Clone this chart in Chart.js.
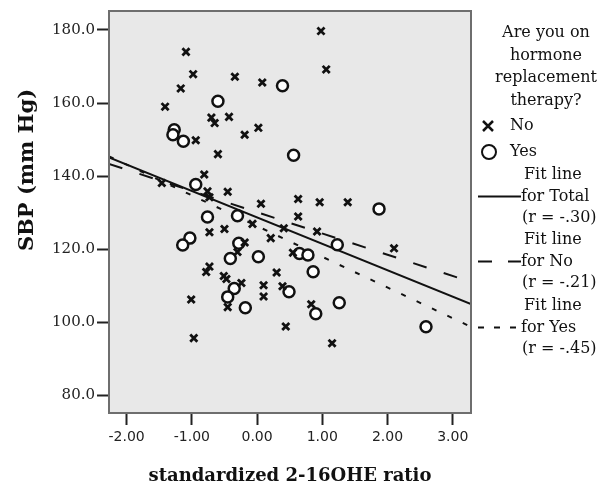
<!DOCTYPE html>
<html>
<head>
<meta charset="utf-8">
<script src="https://cdn.jsdelivr.net/npm/chart.js@4.4.1/dist/chart.umd.min.js"></script>
<style>
  html, body { margin: 0; padding: 0; background: #fff; }
  #box { width: 614px; height: 488px; }
</style>
</head>
<body>
<div id="box"><canvas id="grafico"></canvas></div>
<script>
// dati: rapporto 2-16OHE standardizzato vs SBP
const noX = [-1.09, -0.98, -1.17, -1.41, -0.34, 0.08, -0.70, -0.65, -0.43, 0.02,
             -0.19, -0.94, -0.60, -0.81, -1.46, -0.76, -0.73, -0.45, 0.06, 0.98,
             1.06, 0.63, 0.96, 1.39, 0.63, -0.50, -0.73, -0.07, -0.19, 0.21,
             0.41, -0.30, -0.73, -0.78, -0.51, -0.47, -0.24, -0.45, -1.01, -0.97,
             0.30, 0.10, 0.10, 0.39, 0.44, 0.92, 2.10, 0.55, 0.83, 1.15];
const noY = [174.0, 167.9, 164.0, 159.0, 167.2, 165.6, 156.0, 154.5, 156.2, 153.2,
             151.3, 149.8, 146.0, 140.4, 138.1, 135.8, 134.2, 135.7, 132.4, 179.7,
             169.2, 133.7, 132.8, 132.8, 128.9, 125.5, 124.6, 126.9, 121.8, 123.0,
             125.7, 119.2, 115.2, 113.7, 112.6, 111.8, 110.7, 104.1, 106.2, 95.6,
             113.6, 110.1, 107.0, 109.8, 98.8, 124.8, 120.2, 119.0, 104.9, 94.2];

const yesX = [0.39, -0.60, -1.27, -1.29, -1.13, -0.94, -0.76, -0.30, 0.56, 1.87,
              -1.03, -1.14, -0.28, -0.41, 0.02, -0.35, -0.45, -0.18, 0.49, 1.23,
              0.65, 0.78, 0.86, 0.90, 1.26, 2.59];
const yesY = [164.7, 160.5, 152.7, 151.3, 149.5, 137.7, 128.8, 129.1, 145.7, 131.0,
              123.0, 121.1, 121.6, 117.4, 117.9, 109.2, 106.9, 103.9, 108.3, 121.2,
              118.8, 118.4, 113.8, 102.3, 105.3, 98.7];

// rette di regressione (estremi sull'asse x)
const fitX = [-2.27, 3.28];
const fitTotal = [145.1, 104.9];
const fitNo = [143.3, 111.0];
const fitYes = [145.4, 98.7];

const xTicks = [-2, -1, 0, 1, 2, 3];
const yTicks = [80, 100, 120, 140, 160, 180];

const legendaTitolo = ['Are you on', 'hormone', 'replacement', 'therapy?'];

function punti(xs, ys) {
  return xs.map((x, i) => ({ x: x, y: ys[i] }));
}

// sfondo grigio dell'area e cornice
const cornice = {
  id: 'cornice',
  beforeDraw(chart) {
    const a = chart.chartArea;
    const ctx = chart.ctx;
    ctx.save();
    ctx.fillStyle = '#e8e8e8';
    ctx.fillRect(a.left, a.top, a.right - a.left, a.bottom - a.top);
    ctx.restore();
  },
  afterDraw(chart) {
    const a = chart.chartArea;
    const ctx = chart.ctx;
    ctx.save();
    ctx.strokeStyle = '#6e6e6e';
    ctx.lineWidth = 2;
    ctx.strokeRect(a.left, a.top, a.right - a.left, a.bottom - a.top);
    ctx.restore();
  }
};

// titoli degli assi + legenda a destra
const testi = {
  id: 'testi',
  afterDraw(chart) {
    const ctx = chart.ctx;
    ctx.save();
    ctx.fillStyle = '#111';
    ctx.textBaseline = 'middle';

    ctx.font = 'bold 18px "DejaVu Serif"';
    ctx.textAlign = 'center';
    ctx.fillText('standardized 2-16OHE ratio', 290, 476);

    ctx.save();
    ctx.translate(28, 170);
    ctx.rotate(-Math.PI / 2);
    ctx.font = 'bold 21px "DejaVu Serif"';
    ctx.fillText('SBP (mm Hg)', 0, 0);
    ctx.restore();

    // legenda
    ctx.font = '16px "DejaVu Serif"';
    ctx.textAlign = 'center';
    legendaTitolo.forEach((riga, i) => {
      ctx.fillText(riga, 546, 33 + i * 22.5);
    });

    ctx.textAlign = 'left';
    ctx.strokeStyle = '#111';
    ctx.lineWidth = 2.5;
    ctx.beginPath();
    ctx.moveTo(483, 121); ctx.lineTo(493, 131);
    ctx.moveTo(493, 121); ctx.lineTo(483, 131);
    ctx.stroke();
    ctx.fillText('No', 510, 126);

    ctx.lineWidth = 2;
    ctx.beginPath();
    ctx.arc(489, 152, 7, 0, Math.PI * 2);
    ctx.stroke();
    ctx.fillText('Yes', 510, 152);

    const voci = [
      { y: 175, nome: 'for Total', r: '(r = -.30)', dash: [] },
      { y: 240, nome: 'for No', r: '(r = -.21)', dash: [14, 16] },
      { y: 306, nome: 'for Yes', r: '(r = -.45)', dash: [6, 10] }
    ];
    voci.forEach(v => {
      ctx.fillText('Fit line', 524, v.y);
      ctx.fillText(v.nome, 521, v.y + 21.5);
      ctx.fillText(v.r, 522, v.y + 43);
      ctx.setLineDash(v.dash);
      ctx.lineWidth = 2;
      ctx.beginPath();
      ctx.moveTo(478, v.y + 21.5);
      ctx.lineTo(521, v.y + 21.5);
      ctx.stroke();
    });
    ctx.setLineDash([]);
    ctx.restore();
  }
};

const ctx = document.getElementById('grafico').getContext('2d');
new Chart(ctx, {
  type: 'scatter',
  data: {
    datasets: [
      {
        label: 'No',
        data: punti(noX, noY),
        pointStyle: 'crossRot',
        pointRadius: 5,
        pointBorderWidth: 2.8,
        borderColor: '#111',
        backgroundColor: '#111',
        order: 0
      },
      {
        label: 'Yes',
        data: punti(yesX, yesY),
        pointStyle: 'circle',
        pointRadius: 5.5,
        pointBorderWidth: 2.5,
        borderColor: '#111',
        backgroundColor: '#fff',
        order: 0
      },
      {
        label: 'Fit line for Total',
        data: punti(fitX, fitTotal),
        showLine: true,
        pointRadius: 0,
        borderWidth: 2,
        borderColor: '#111',
        order: 1
      },
      {
        label: 'Fit line for No',
        data: punti(fitX, fitNo),
        showLine: true,
        pointRadius: 0,
        borderWidth: 2,
        borderDash: [14, 18],
        borderColor: '#111',
        order: 2
      },
      {
        label: 'Fit line for Yes',
        data: punti(fitX, fitYes),
        showLine: true,
        pointRadius: 0,
        borderWidth: 2,
        borderDash: [5, 12],
        borderColor: '#111',
        order: 3
      }
    ]
  },
  options: {
    responsive: true,
    maintainAspectRatio: false,
    animation: false,
    layout: { padding: { left: 0, right: 143, top: 10, bottom: 0 } },
    plugins: {
      legend: { display: false },
      tooltip: { enabled: false }
    },
    scales: {
      x: {
        type: 'linear',
        min: -2.27,
        max: 3.28,
        afterBuildTicks: scale => { scale.ticks = xTicks.map(v => ({ value: v })); },
        afterFit: scale => { scale.height = 75; },
        grid: { drawOnChartArea: false, drawTicks: true, tickLength: 12, tickColor: '#222', tickWidth: 2 },
        border: { display: true, color: '#555', width: 2 },
        ticks: {
          padding: 4,
          color: '#222',
          font: { family: '"DejaVu Sans"', size: 14 },
          maxRotation: 0,
          callback: v => v.toFixed(2)
        }
      },
      y: {
        type: 'linear',
        min: 75.1,
        max: 185.2,
        afterBuildTicks: scale => { scale.ticks = yTicks.map(v => ({ value: v })); },
        afterFit: scale => { scale.width = 109; },
        grid: { drawOnChartArea: false, drawTicks: true, tickLength: 12, tickColor: '#222', tickWidth: 2 },
        border: { display: true, color: '#555', width: 2 },
        ticks: {
          padding: 2,
          color: '#222',
          font: { family: '"DejaVu Serif"', size: 15 },
          callback: v => v.toFixed(1)
        }
      }
    }
  },
  plugins: [cornice, testi]
});
</script>
</body>
</html>
